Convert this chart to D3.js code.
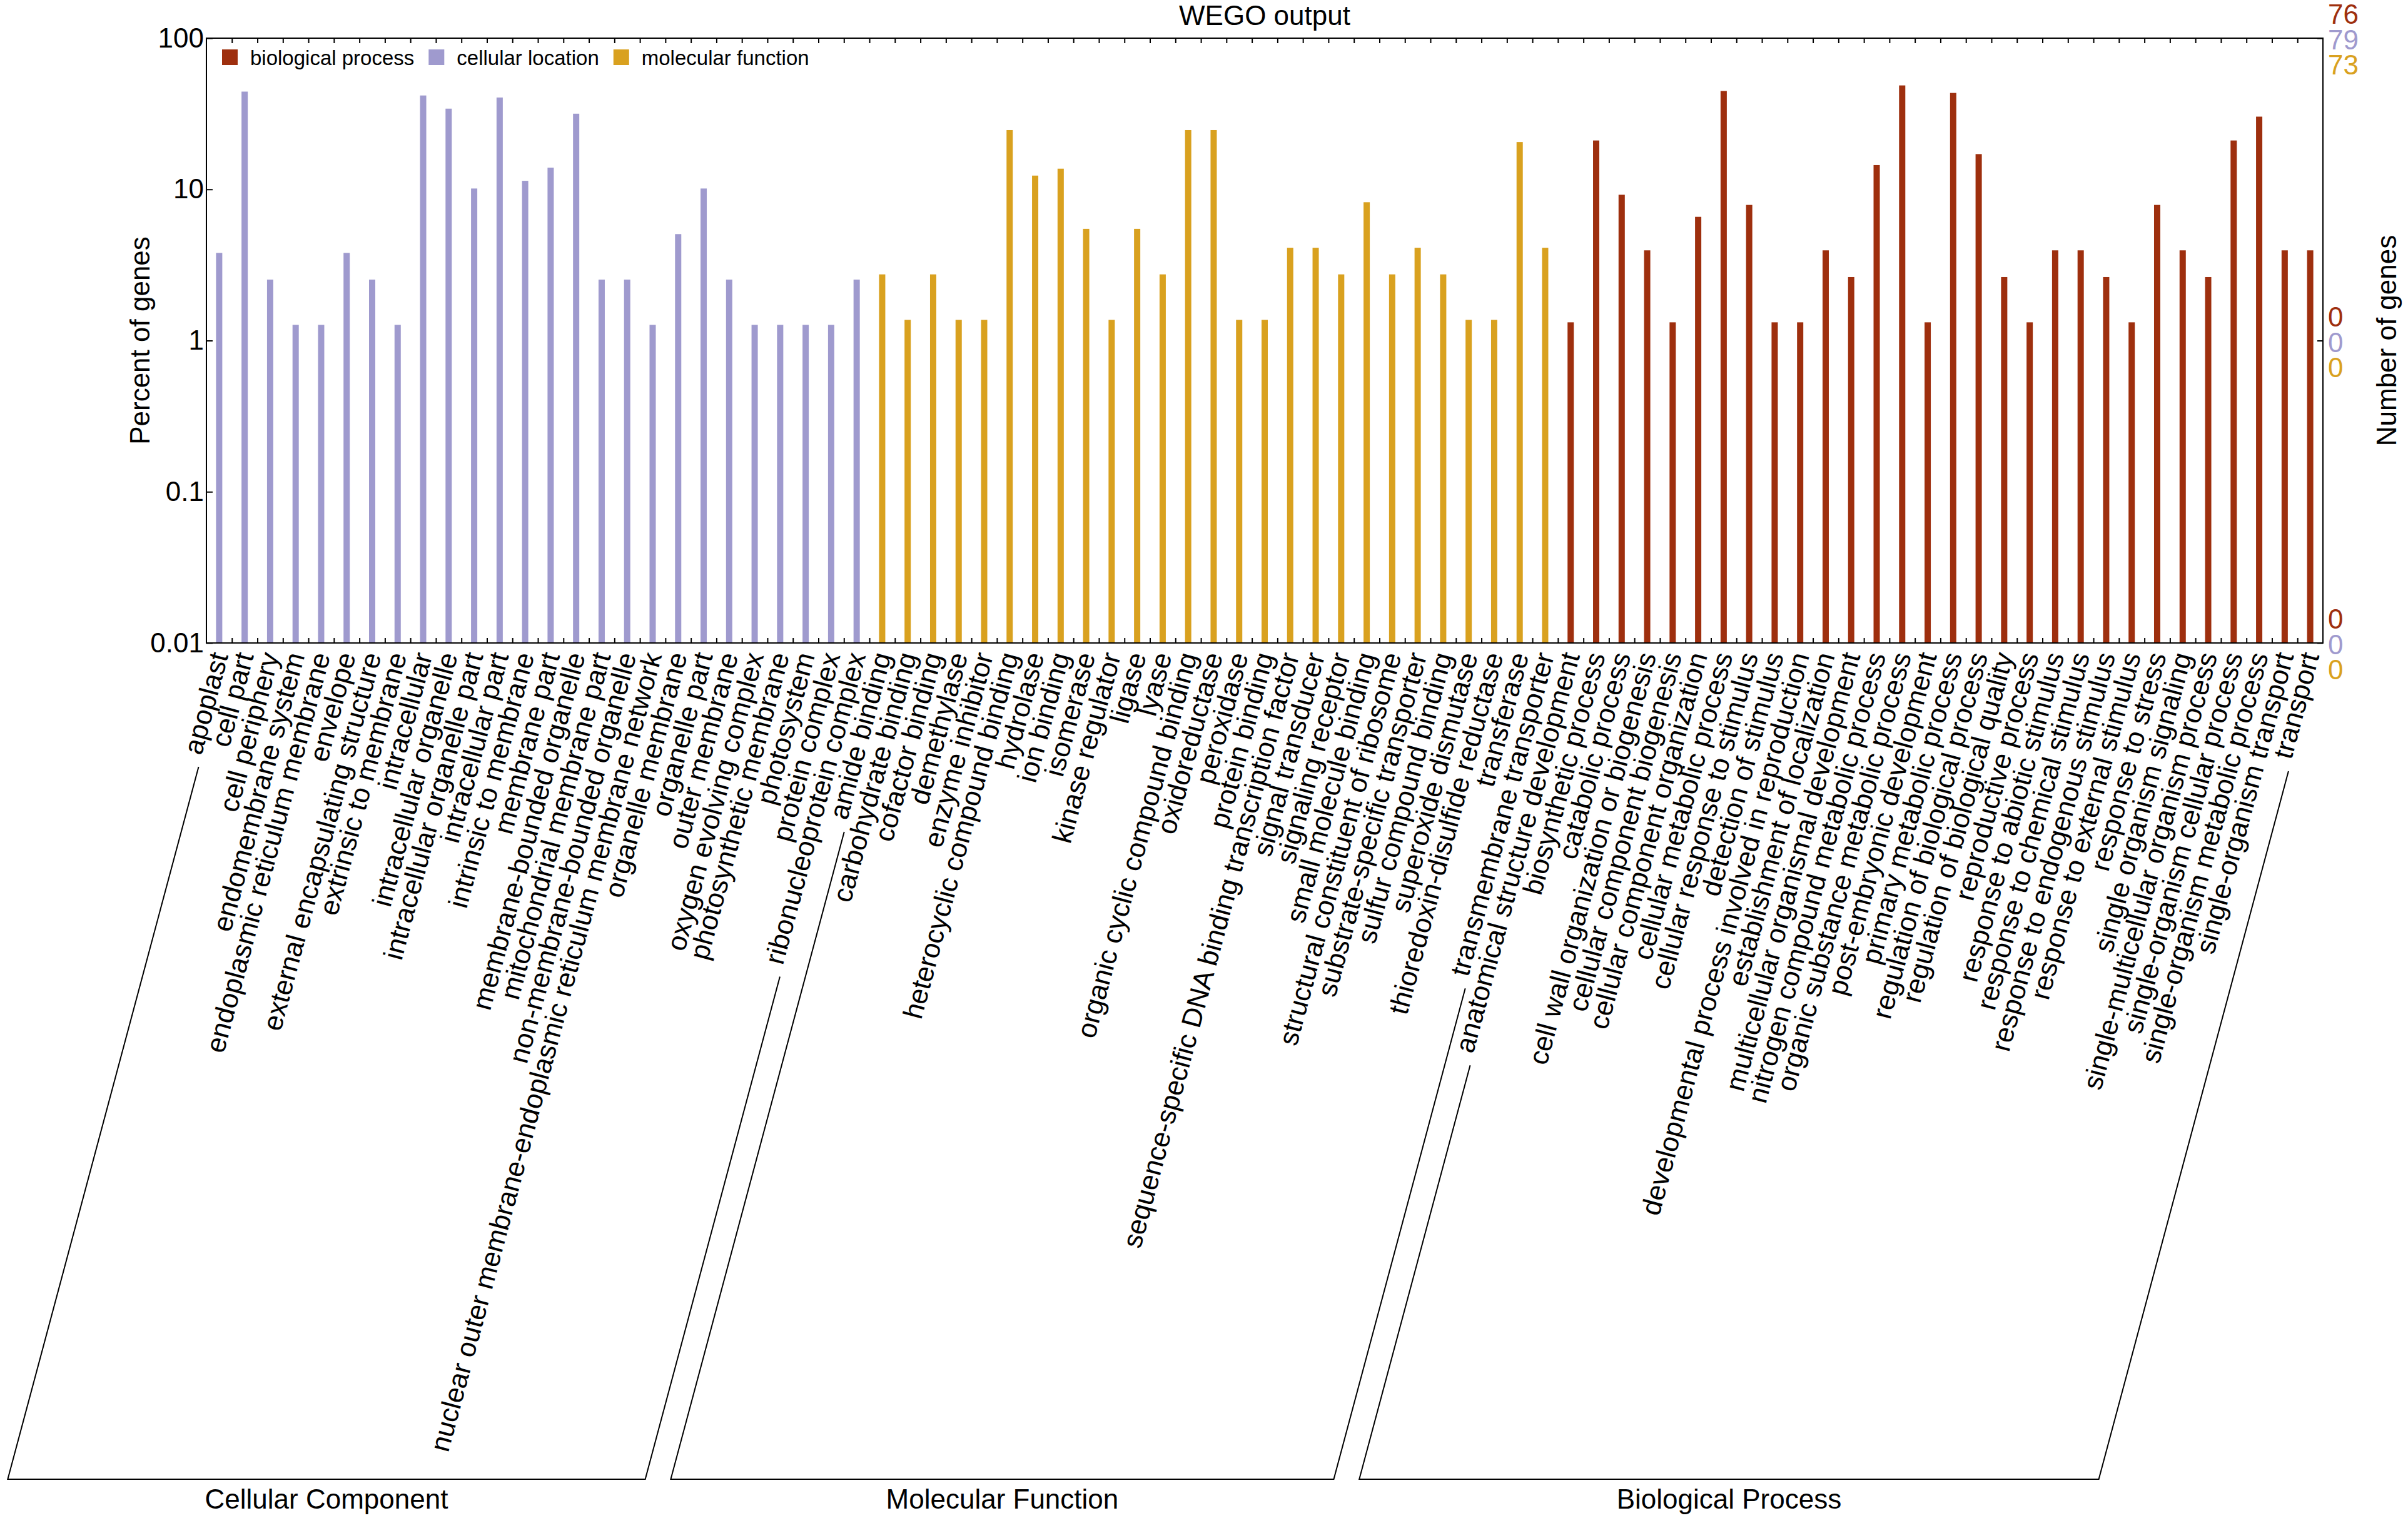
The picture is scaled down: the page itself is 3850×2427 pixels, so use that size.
<!DOCTYPE html>
<html>
<head>
<meta charset="utf-8">
<script src="https://cdn.jsdelivr.net/npm/d3@7"></script>
<style>
  html, body { margin: 0; padding: 0; background: #ffffff; }
  svg { display: block; }
  text { font-family: "Liberation Sans", Arial, Helvetica, sans-serif; }
</style>
</head>
<body>
<div id="chart"></div>
<script>
// ---------------- DATA ----------------
const ccCategories = ["apoplast","cell part","cell periphery","endomembrane system","endoplasmic reticulum membrane","envelope","external encapsulating structure","extrinsic to membrane","intracellular","intracellular organelle","intracellular organelle part","intracellular part","intrinsic to membrane","membrane part","membrane-bounded organelle","mitochondrial membrane part","non-membrane-bounded organelle","nuclear outer membrane-endoplasmic reticulum membrane network","organelle membrane","organelle part","outer membrane","oxygen evolving complex","photosynthetic membrane","photosystem","protein complex","ribonucleoprotein complex"];
const ccPercent = [3.80,44.30,2.53,1.27,1.27,3.80,2.53,1.27,41.77,34.18,10.13,40.51,11.39,13.92,31.65,2.53,2.53,1.27,5.06,10.13,2.53,1.27,1.27,1.27,1.27,2.53];

const mfCategories = ["amide binding","carbohydrate binding","cofactor binding","demethylase","enzyme inhibitor","heterocyclic compound binding","hydrolase","ion binding","isomerase","kinase regulator","ligase","lyase","organic cyclic compound binding","oxidoreductase","peroxidase","protein binding","sequence-specific DNA binding transcription factor","signal transducer","signaling receptor","small molecule binding","structural constituent of ribosome","substrate-specific transporter","sulfur compound binding","superoxide dismutase","thioredoxin-disulfide reductase","transferase","transmembrane transporter"];
const mfPercent = [2.74,1.37,2.74,1.37,1.37,24.66,12.33,13.70,5.48,1.37,5.48,2.74,24.66,24.66,1.37,1.37,4.11,4.11,2.74,8.22,2.74,4.11,2.74,1.37,1.37,20.55,4.11];

const bpCategories = ["anatomical structure development","biosynthetic process","catabolic process","cell wall organization or biogenesis","cellular component biogenesis","cellular component organization","cellular metabolic process","cellular response to stimulus","detection of stimulus","developmental process involved in reproduction","establishment of localization","multicellular organismal development","nitrogen compound metabolic process","organic substance metabolic process","post-embryonic development","primary metabolic process","regulation of biological process","regulation of biological quality","reproductive process","response to abiotic stimulus","response to chemical stimulus","response to endogenous stimulus","response to external stimulus","response to stress","single organism signaling","single-multicellular organism process","single-organism cellular process","single-organism metabolic process","single-organism transport","transport"];
const bpPercent = [1.32,21.05,9.21,3.95,1.32,6.58,44.74,7.89,1.32,1.32,3.95,2.63,14.47,48.68,1.32,43.42,17.11,2.63,1.32,3.95,3.95,2.63,1.32,7.89,3.95,2.63,21.05,30.26,3.95,3.95];

const groupNames = ["Cellular Component","Molecular Function","Biological Process"];
const legendNames = ["biological process","cellular location","molecular function"];
const percentTicks = [0.01, 0.1, 1, 10, 100];
const geneTickLabels = [
  {level: 100,  labels: ["76","79","73"]},
  {level: 1,    labels: ["0","0","0"]},
  {level: 0.01, labels: ["0","0","0"]}
];

// ---------------- STYLE ----------------
const COL_BP = "#9e2f0e", COL_CC = "#9f9ace", COL_MF = "#d9a11f";
const W = 3850, H = 2427;
const L = 330, R = 3714, T = 61, B = 1028;
const FS = 44;

const groups = [
  {name: groupNames[0], cats: ccCategories, vals: ccPercent, color: COL_CC},
  {name: groupNames[1], cats: mfCategories, vals: mfPercent, color: COL_MF},
  {name: groupNames[2], cats: bpCategories, vals: bpPercent, color: COL_BP}
];
const rows = [];
groups.forEach((g, gi) => g.cats.forEach((c, i) => rows.push({key: gi + ":" + c, label: c, value: g.vals[i], color: g.color, group: gi})));

const svg = d3.select("#chart").append("svg").attr("width", W).attr("height", H);

const x = d3.scaleBand().domain(rows.map(d => d.key)).range([L, R]).paddingInner(0).paddingOuter(0);
const y = d3.scaleLog().domain([0.01, 100]).range([B, T]);
const edge = d3.scaleLinear().domain([0, rows.length]).range([L, R]);

// bars
const bw = 10;
svg.append("g").selectAll("rect").data(rows).join("rect")
  .attr("x", d => x(d.key) + x.bandwidth() / 2 - bw / 2)
  .attr("y", d => y(d.value))
  .attr("width", bw)
  .attr("height", d => B - y(d.value))
  .attr("fill", d => d.color);

// axes
function styleAxis(g) {
  g.select(".domain").remove();
  g.selectAll(".tick line").attr("stroke", "#000").attr("stroke-width", 2);
  g.selectAll(".tick text").attr("font-size", FS).attr("fill", "#000")
    .attr("font-family", "'Liberation Sans', Arial, Helvetica, sans-serif");
}
svg.append("g").attr("transform", `translate(${L},0)`)
  .call(d3.axisLeft(y).tickValues(percentTicks).tickSize(-10).tickPadding(4)
    .tickFormat(d => d >= 1 ? d3.format("d")(d) : String(d)))
  .call(styleAxis);
svg.append("g").attr("transform", `translate(${R},0)`)
  .call(d3.axisRight(y).tickValues(geneTickLabels.map(d => d.level)).tickSize(-9).tickFormat(""))
  .call(styleAxis);
svg.append("g").attr("transform", `translate(0,${B})`)
  .call(d3.axisBottom(edge).tickValues(d3.range(1, rows.length)).tickSize(-8).tickFormat(""))
  .call(styleAxis);
svg.append("g").attr("transform", `translate(0,${T})`)
  .call(d3.axisTop(edge).tickValues(d3.range(1, rows.length)).tickSize(-8).tickFormat(""))
  .call(styleAxis);

// frame
svg.append("rect").attr("x", L).attr("y", T).attr("width", R - L).attr("height", B - T)
  .attr("fill", "none").attr("stroke", "#000").attr("stroke-width", 2);

// right axis gene-count labels
const rightCols = [COL_BP, COL_CC, COL_MF];
const rightOffsets = [-38, 3, 43];
const rg = svg.append("g");
geneTickLabels.forEach(t => {
  t.labels.forEach((lab, i) => {
    rg.append("text").attr("x", R + 8).attr("y", y(t.level) + rightOffsets[i])
      .attr("dy", "0.35em").attr("font-size", FS).attr("fill", rightCols[i]).text(lab);
  });
});

// title
svg.append("text").attr("x", (L + R) / 2).attr("y", 40).attr("text-anchor", "middle")
  .attr("font-size", FS).attr("fill", "#000").text("WEGO output");

// axis titles
svg.append("text").attr("transform", `translate(239,${(T + B) / 2}) rotate(-90)`)
  .attr("text-anchor", "middle").attr("font-size", FS).attr("fill", "#000").text("Percent of genes");
svg.append("text").attr("transform", `translate(3831,${(T + B) / 2}) rotate(-90)`)
  .attr("text-anchor", "middle").attr("font-size", FS).attr("fill", "#000").text("Number of genes");

// legend
const lg = svg.append("g");
let lx = 355;
const legendColors = [COL_BP, COL_CC, COL_MF];
legendNames.forEach((n, i) => {
  lg.append("rect").attr("x", lx).attr("y", 79).attr("width", 25).attr("height", 25).attr("fill", legendColors[i]);
  const t = lg.append("text").attr("x", lx + 45).attr("y", 92).attr("dy", "0.35em")
    .attr("font-size", 33).attr("fill", "#000").text(n);
  lx = lx + 45 + t.node().getComputedTextLength() + 23;
});

// category labels
const ANG = 75, rad = ANG * Math.PI / 180;
const ux = Math.cos(rad), uy = Math.sin(rad); // text direction: (ux, -uy)
const LY = B + 16;
const labelG = svg.append("g");
rows.forEach(d => {
  const cx = x(d.key) + x.bandwidth() / 2;
  const t = labelG.append("text")
    .attr("transform", `translate(${cx},${LY}) rotate(${-ANG})`)
    .attr("text-anchor", "end").attr("dy", "0.35em")
    .attr("font-size", FS).attr("fill", "#000").text(d.label);
  d.len = t.node().getComputedTextLength();
  d.cx = cx;
});

// group brackets
const BY = 2365, GAP = 18;
const dyShift = 0.35 * FS;
function startPoint(d) {
  const ax = d.cx + dyShift * Math.sin(rad), ay = LY + dyShift * Math.cos(rad);
  return [ax - (d.len + GAP) * ux, ay + (d.len + GAP) * uy];
}
function footPoint(p) {
  const t = (BY - p[1]) / uy;
  return [p[0] - t * ux, BY];
}
groups.forEach((g, gi) => {
  const gr = rows.filter(r => r.group === gi);
  const s0 = startPoint(gr[0]), s1 = startPoint(gr[gr.length - 1]);
  const f0 = footPoint(s0), f1 = footPoint(s1);
  svg.append("path").attr("d", d3.line()([s0, f0, f1, s1]))
    .attr("fill", "none").attr("stroke", "#000").attr("stroke-width", 2);
  svg.append("text").attr("x", (f0[0] + f1[0]) / 2).attr("y", 2412).attr("text-anchor", "middle")
    .attr("font-size", FS).attr("fill", "#000").text(g.name);
});
</script>
</body>
</html>
